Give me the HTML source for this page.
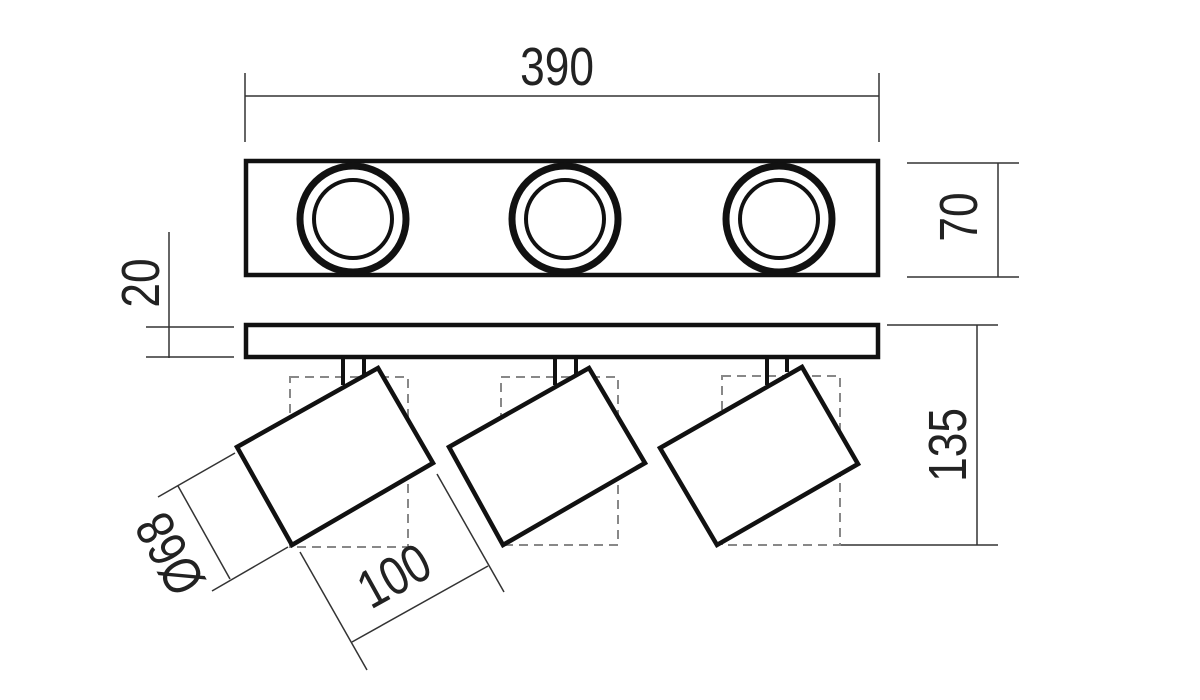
<!DOCTYPE html>
<html><head><meta charset="utf-8"><style>
html,body{margin:0;padding:0;background:#fff;}
svg{display:block}
text{font-family:"Liberation Sans Narrow","Liberation Sans",sans-serif;font-size:54px;fill:#222;}
</style></head><body>
<svg width="1200" height="700" viewBox="0 0 1200 700" xmlns="http://www.w3.org/2000/svg">
<g stroke="#333" stroke-width="1.5" fill="none">
<line x1="245" y1="73" x2="245" y2="142"/>
<line x1="879" y1="73" x2="879" y2="142"/>
<line x1="245" y1="96" x2="879" y2="96"/>
<line x1="907" y1="163" x2="1019" y2="163"/>
<line x1="907" y1="277" x2="1019" y2="277"/>
<line x1="998" y1="163" x2="998" y2="277"/>
<line x1="146" y1="327" x2="234" y2="327"/>
<line x1="146" y1="357" x2="234" y2="357"/>
<line x1="169" y1="232" x2="169" y2="358"/>
<line x1="887" y1="325" x2="998" y2="325"/>
<line x1="840" y1="545" x2="998" y2="545"/>
<line x1="977" y1="325" x2="977" y2="545"/>
<line x1="158" y1="497" x2="235" y2="453"/>
<line x1="212" y1="591" x2="288" y2="547"/>
<line x1="178" y1="486" x2="230" y2="579"/>
<line x1="300" y1="552" x2="367" y2="670"/>
<line x1="437" y1="474" x2="504" y2="592"/>
<line x1="352" y1="642" x2="488" y2="566"/>
</g>
<g stroke="#888" stroke-width="2" stroke-dasharray="9,6" fill="none">
<rect x="290" y="377" width="118" height="170"/>
<rect x="501" y="377" width="117" height="168"/>
<rect x="722" y="376" width="118" height="169"/>
</g>
<g stroke="#111" fill="none">
<rect x="246" y="161" width="632" height="114" stroke-width="4.5"/>
<rect x="246" y="325" width="632" height="32" stroke-width="4.5"/>
<circle cx="353" cy="219" r="53" stroke-width="7"/>
<circle cx="353" cy="219" r="39" stroke-width="4"/>
<circle cx="565" cy="219" r="53" stroke-width="7"/>
<circle cx="565" cy="219" r="39" stroke-width="4"/>
<circle cx="779" cy="219" r="53" stroke-width="7"/>
<circle cx="779" cy="219" r="39" stroke-width="4"/>
<g stroke-width="4">
<path d="M343 357 V385 M364 357 V377"/>
<path d="M555 357 V385 M576 357 V377"/>
<path d="M767 357 V385 M787 357 V372"/>
</g>
<g stroke-width="4.5" stroke-linejoin="miter" fill="#fff">
<polygon points="237,447 378,368 433,463 292,545"/>
<polygon points="449,447 589,368 645,463 503,545"/>
<polygon points="660,448 802,367 858,464 717,545"/>
</g>
</g>
<text transform="translate(557,85) scale(0.82,1)" text-anchor="middle">390</text>
<text transform="translate(977,217) rotate(-90) scale(0.82,1)" text-anchor="middle">70</text>
<text transform="translate(159,283) rotate(-90) scale(0.82,1)" text-anchor="middle">20</text>
<text transform="translate(966,445) rotate(-90) scale(0.82,1)" text-anchor="middle">135</text>
<text transform="translate(186,545) rotate(-119) scale(0.82,1)" text-anchor="middle">Ø68</text>
<text transform="translate(403,592) rotate(-29) scale(0.82,1)" text-anchor="middle">100</text>
</svg>
</body></html>
